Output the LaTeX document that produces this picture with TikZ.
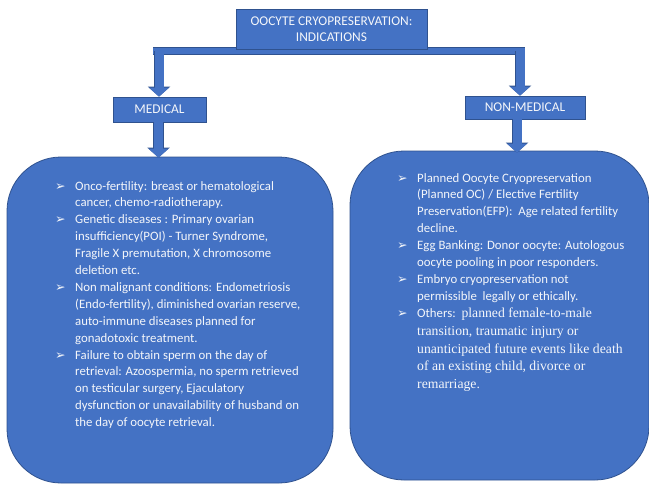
\documentclass[tikz,border=0pt]{standalone}
\usepackage{fontspec}
\setmainfont{Carlito}
\newfontfamily\serifpart{Liberation Serif}
\newfontfamily\symfont{DejaVu Sans}
\usepackage{xcolor}
\usepackage{array}
\usetikzlibrary{arrows.meta,positioning,calc}
\definecolor{boxfill}{HTML}{4472C4}
\definecolor{boxline}{HTML}{2F528F}
\definecolor{boxtext}{HTML}{F4F6FA}
\newcommand{\pointer}{{\symfont\fontsize{12.5}{12}\selectfont ➢}}
\newcommand{\bodyfont}{\fontsize{12.8}{16.9}\selectfont}
\newcommand{\tnr}{\serifpart\fontsize{13.7}{16.9}\selectfont}

\begin{document}
\begin{tikzpicture}[x=1pt, y=1pt,
    header/.style={draw=boxline, fill=boxfill, text=boxtext, line width=0.8pt,
        font=\fontsize{13.4}{16}\selectfont, align=center, inner sep=0pt},
    bigbox/.style={draw=boxline, fill=boxfill, line width=0.8pt,
        rounded corners=54pt, inner sep=0pt},
    listtext/.style={text=boxtext, anchor=north west, inner sep=0pt,
        font=\bodyfont},
    bar/.style={boxfill, line width=6pt,
        preaction={draw=boxline, line width=7.6pt}},
    blk/.style={boxfill, line width=9pt,
        -{Triangle[length=9pt, width=20pt, line width=0pt]},
        preaction={draw=boxline, line width=10.6pt,
            -{Triangle[length=10pt, width=22.5pt, line width=0pt]}}}]
    \useasboundingbox (0,0) rectangle (649,-485);

    % Big boxes
    \node[bigbox, minimum width=326pt, minimum height=326pt] (medbox) at (170,-320) {};
    \node[bigbox, minimum width=299pt, minimum height=329pt] (nonbox) at (499.5,-315.5) {};

    % Branch bar
    \coordinate (jl) at (159,-51);
    \coordinate (jr) at (520,-51);
    \draw[bar] ($(jl)+(-6,0)$) -- ($(jr)+(5,0)$);

    % Heading boxes
    \node[header, minimum width=191pt, minimum height=40pt] (top) at (331.5,-29)
        {OOCYTE CRYOPRESERVATION:\\[0pt]INDICATIONS};
    \node[header, minimum width=93pt, minimum height=25pt] (med) at (159.5,-109.5) {MEDICAL};
    \node[header, minimum width=120pt, minimum height=23pt] (nonmed) at (525,-107.5) {NON-MEDICAL};

    % Arrows
    \draw[blk] (jl) -- (jl |- med.north);
    \draw[blk] (jr) -- (jr |- nonmed.north);
    \coordinate (ml) at ($(med.south)+(-1,0)$);
    \coordinate (nl) at ($(nonmed.south)+(-8,0)$);
    \draw[blk] (ml) -- ($(ml |- medbox.north)+(0,-1)$);
    \draw[blk] (nl) -- ($(nl |- nonbox.north)+(0,-2)$);

    % Medical list
    \node[listtext] (medtext) at (55,-178) {%
        \begin{tabular}{@{}p{20pt}@{}l@{}}
        \pointer & Onco-fertility: breast or hematological\\
        & cancer, chemo-radiotherapy.\\
        \pointer & Genetic diseases : Primary ovarian\\
        & insufficiency(POI) - Turner Syndrome,\\
        & Fragile X premutation, X chromosome\\
        & deletion etc.\\
        \pointer & Non malignant conditions: Endometriosis\\
        & (Endo-fertility), diminished ovarian reserve,\\
        & auto-immune diseases planned for\\
        & gonadotoxic treatment.\\
        \pointer & Failure to obtain sperm on the day of\\
        & retrieval: Azoospermia, no sperm retrieved\\
        & on testicular surgery, Ejaculatory\\
        & dysfunction or unavailability of husband on\\
        & the day of oocyte retrieval.
        \end{tabular}};

    % Non-medical list
    \node[listtext] (nontext) at (397,-170) {%
        \begin{tabular}{@{}p{20pt}@{}l@{}}
        \pointer & Planned Oocyte Cryopreservation\\
        & (Planned OC) / Elective Fertility\\
        & Preservation(EFP):\ \ Age related fertility\\
        & decline.\\
        \pointer & Egg Banking: Donor oocyte: Autologous\\
        & oocyte pooling in poor responders.\\
        \pointer & Embryo cryopreservation not\\
        & permissible\ \ legally or ethically.\\[0.4pt]
        \pointer & Others:\ \ {\tnr planned female-to-male}\\[0.8pt]
        & {\tnr transition, traumatic injury or}\\[0.8pt]
        & {\tnr unanticipated future events like death}\\[0.8pt]
        & {\tnr of an existing child, divorce or}\\[0.8pt]
        & {\tnr remarriage.}
        \end{tabular}};
\end{tikzpicture}
\end{document}
